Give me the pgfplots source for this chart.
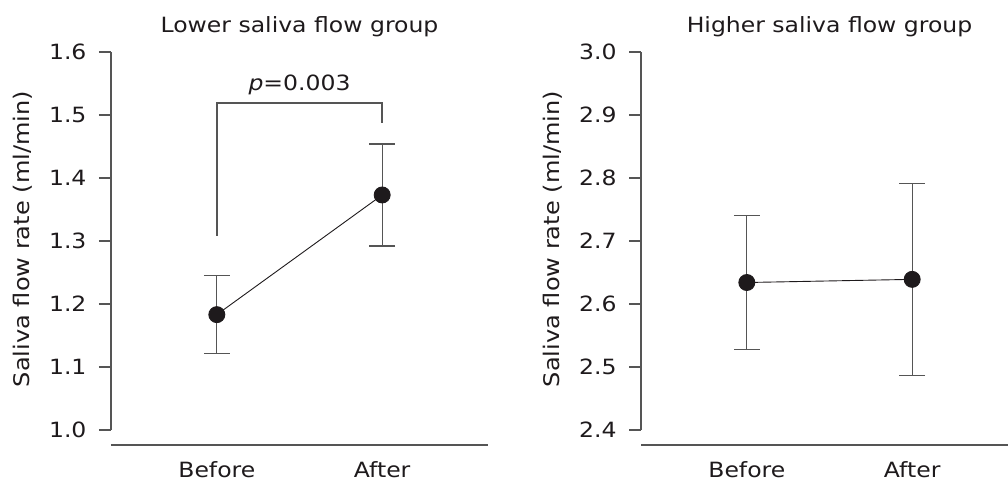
\documentclass[border=0pt]{standalone}
\usepackage{fontspec}
\setmainfont[FakeStretch=1.12]{DejaVu Sans}
\usepackage{pgfplots}
\pgfplotsset{compat=1.18}

\definecolor{axisgray}{HTML}{555555}
\definecolor{ink}{HTML}{1E1A1C}

\pgfplotsset{
  panel/.style={
    scale only axis,
    width=377pt, height=393pt,
    xmin=-0.64, xmax=1.64,
    clip=false,
    axis line style={draw=none},
    xtick={0,1}, xticklabels={Before,After},
    major x tick style={draw=none},
    xticklabel style={anchor=base, yshift=-20pt},
    ytick pos=left,
    tick align=outside,
    major y tick style={axisgray, line width=1.4pt},
    major tick length=12pt,
    yticklabel style={xshift=-9pt},
    /pgf/number format/assume math mode=true,
    /pgf/number format/.cd, fixed, fixed zerofill, precision=1, /pgfplots/.cd,
    tick label style={font=\fontsize{21}{25}\selectfont, text=ink},
    title style={font=\fontsize{21}{25}\selectfont, text=ink,
      at={(axis description cs:0.5,1)}, anchor=base, yshift=13pt},
    every axis y label/.style={at={(axis description cs:-0.233,0.524)},
      rotate=90, anchor=center, font=\fontsize{21.5}{25}\selectfont, text=ink},
    ylabel={Saliva flow rate (ml/min)},
  },
  series/.style={
    ink, line width=0.9pt,
    mark=*, mark size=8pt, mark options={fill=ink, draw=ink},
    error bars/.cd, y dir=both, y explicit,
    error bar style={axisgray, line width=1.1pt},
    error mark options={rotate=90, mark size=13pt, axisgray, line width=1.1pt},
  },
}

\begin{document}
\begin{tikzpicture}
\useasboundingbox (-111pt,-35pt) rectangle (897pt,445pt);

\begin{axis}[panel, ymin=0.976, ymax=1.6, ytick={1.0,1.1,...,1.6},
  title={Lower saliva flow group}]
  \draw[axisgray, line width=1.4pt] (axis cs:-0.64,1.0) -- (axis cs:-0.64,1.6);
  \draw[axisgray, line width=1.4pt] (axis cs:-0.64,0.976) -- (axis cs:1.64,0.976);
  \draw[axisgray, line width=1.4pt] (axis cs:0,1.308) -- (axis cs:0,1.519)
    -- (axis cs:1,1.519) -- (axis cs:1,1.488);
  \node[anchor=base, font=\fontsize{21}{25}\selectfont, text=ink]
    at (axis cs:0.5,1.539) {\textit{p}=0.003};
  \addplot[series] coordinates {
    (0,1.183) +- (0,0.062)
    (1,1.373) +- (0,0.081)
  };
\end{axis}

\begin{axis}[panel, at={(530pt,0pt)}, ymin=2.376, ymax=3.0,
  ytick={2.4,2.5,...,3.0}, title={Higher saliva flow group}]
  \draw[axisgray, line width=1.4pt] (axis cs:-0.64,2.4) -- (axis cs:-0.64,3.0);
  \draw[axisgray, line width=1.4pt] (axis cs:-0.64,2.376) -- (axis cs:1.64,2.376);
  \addplot[series] coordinates {
    (0,2.634) +- (0,0.106)
    (1,2.639) +- (0,0.152)
  };
\end{axis}
\end{tikzpicture}
\end{document}
